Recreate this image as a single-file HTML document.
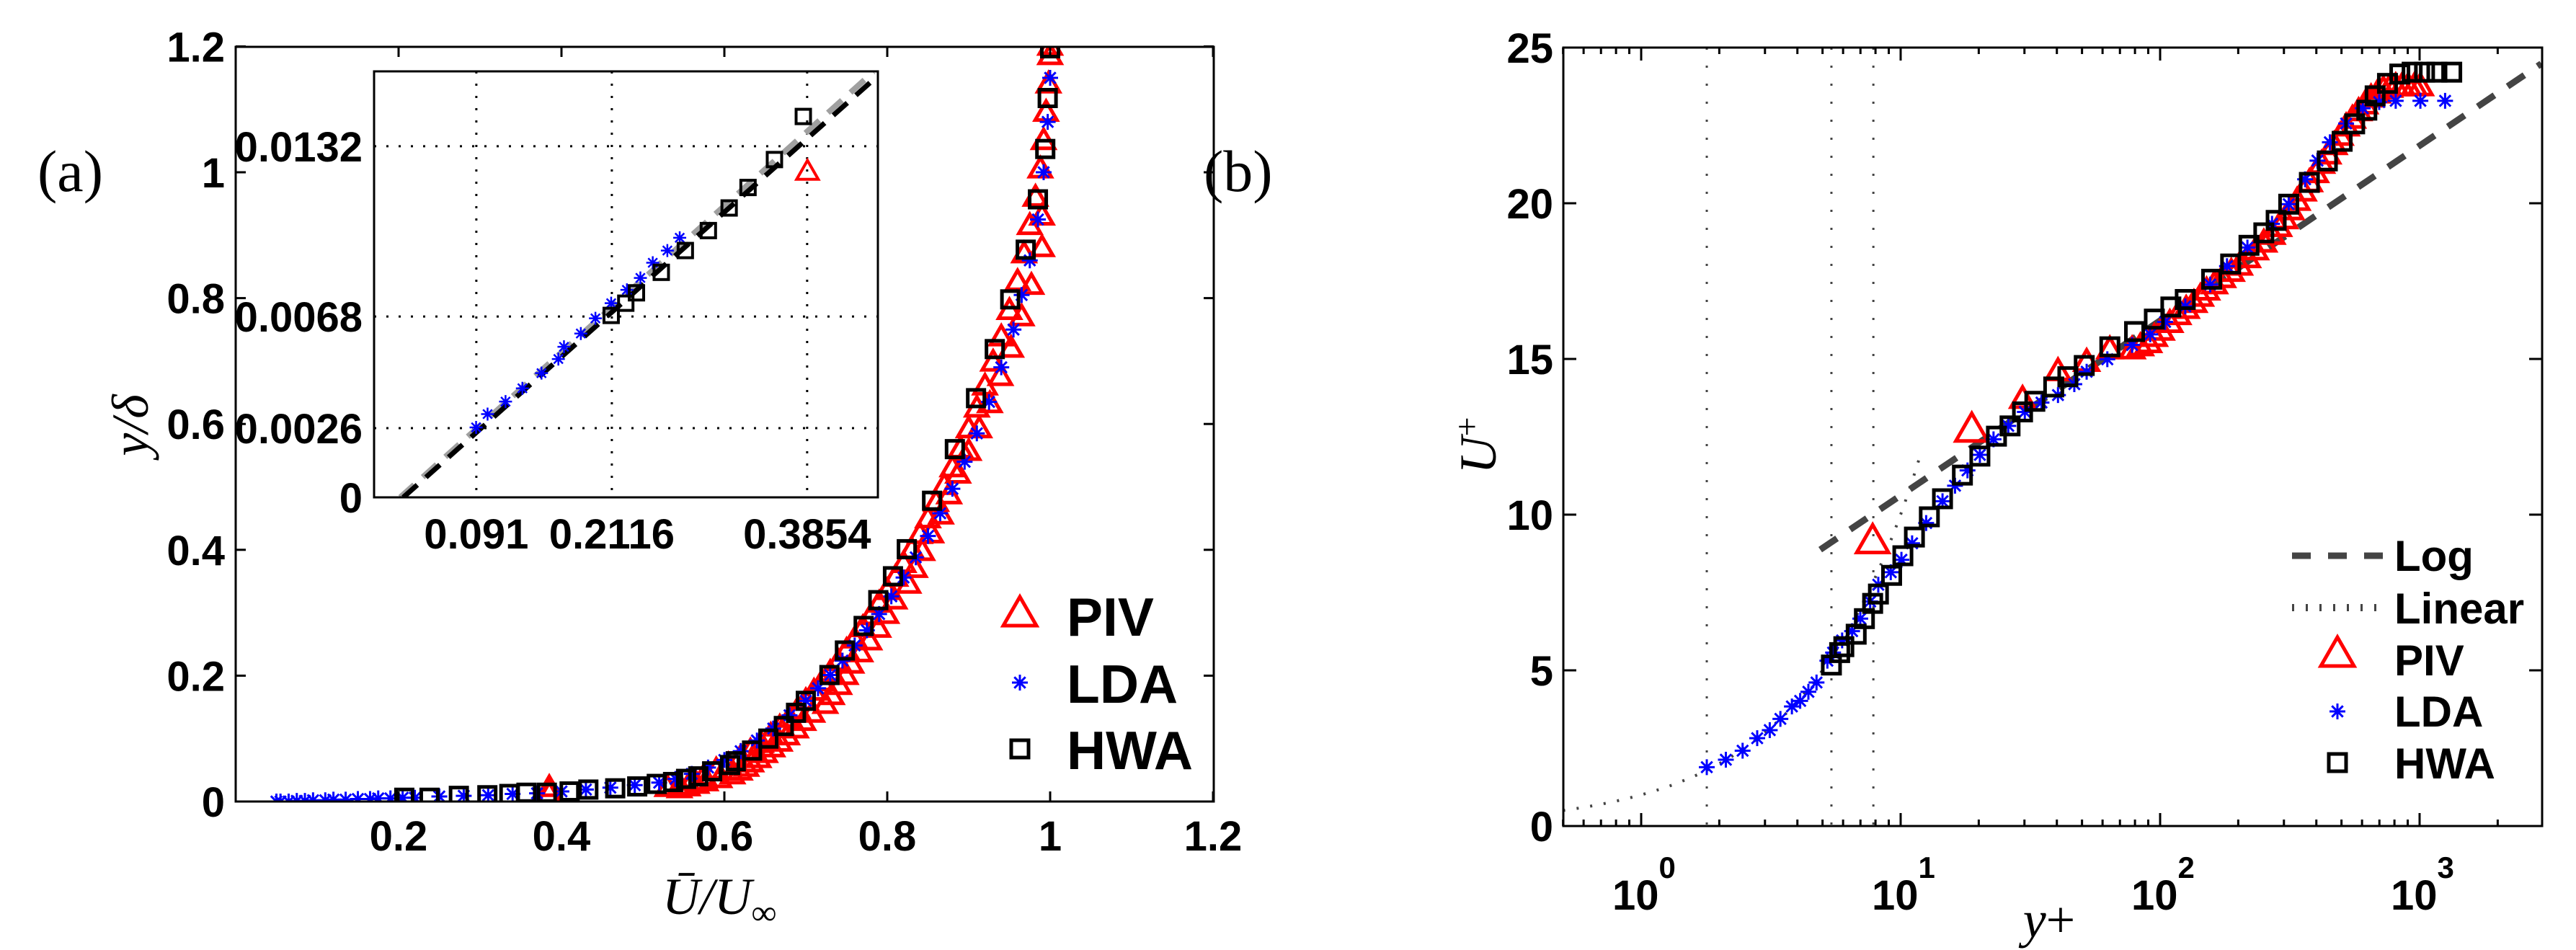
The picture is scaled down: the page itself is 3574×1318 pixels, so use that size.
<!DOCTYPE html>
<html><head><meta charset="utf-8"><style>
html,body{margin:0;padding:0;background:#fff}
svg{display:block}
text{font-family:"Liberation Sans",Arial,sans-serif;font-weight:bold;fill:#000}
.ser{font-family:"Liberation Serif",serif;font-weight:normal}
</style></head><body>
<svg id="fig" width="3574" height="1318" viewBox="0 0 3574 1318" xmlns="http://www.w3.org/2000/svg">
<defs>
<clipPath id="clipL"><rect x="327" y="65" width="1357" height="1047"/></clipPath>
<clipPath id="clipI"><rect x="519" y="99" width="699" height="591"/></clipPath>
<clipPath id="clipR"><rect x="2169" y="66" width="1358" height="1080"/></clipPath>
</defs>
<text class="ser" x="52" y="265" font-size="82">(a)</text>
<text class="ser" x="1670" y="265" font-size="82">(b)</text>
<g id="gL"></g>
<g id="gR"></g>
</svg>
<script>
// ---------- data: panel (a) main ----------
const hwaX=[0.207,0.238,0.274,0.309,0.336,0.357,0.382,0.410,0.433,0.466,0.493,0.517,0.537,0.553,0.568,0.585,0.607,0.614,0.634,0.654,0.673,0.688,0.700,0.729,0.748,0.771,0.789,0.807,0.824,0.855,0.883,0.909,0.932,0.951,0.970,0.985,0.994,0.997,1.0];
const hwaY=[0.006,0.006,0.009,0.010,0.012,0.014,0.014,0.016,0.019,0.021,0.024,0.028,0.031,0.036,0.040,0.048,0.058,0.064,0.081,0.100,0.120,0.141,0.160,0.201,0.240,0.279,0.320,0.358,0.401,0.478,0.560,0.641,0.719,0.798,0.877,0.957,1.037,1.118,1.197];
const ldaX=[0.05,0.055,0.065,0.075,0.085,0.095,0.11,0.12,0.135,0.15,0.165,0.175,0.19,0.205,0.22,0.25,0.28,0.31,0.34,0.37,0.40,0.43,0.46,0.49,0.52,0.54,0.56,0.58,0.60,0.62,0.64,0.66,0.68,0.70,0.715,0.73,0.745,0.76,0.775,0.79,0.805,0.82,0.835,0.85,0.865,0.88,0.895,0.91,0.925,0.94,0.955,0.965,0.975,0.985,0.992,0.997,1.0];
const ldaY=[0.0,0.0,0.0,0.001,0.001,0.002,0.002,0.003,0.003,0.004,0.004,0.005,0.005,0.006,0.006,0.008,0.009,0.010,0.012,0.013,0.016,0.019,0.022,0.026,0.030,0.036,0.044,0.054,0.066,0.080,0.097,0.116,0.137,0.160,0.180,0.201,0.224,0.248,0.272,0.298,0.326,0.356,0.388,0.422,0.458,0.497,0.540,0.585,0.635,0.690,0.750,0.805,0.860,0.925,1.000,1.080,1.150];
const pivX=[0.385,0.385,0.53,0.545,0.56,0.575,0.59,0.605,0.62,0.632,0.645,0.657,0.668,0.68,0.69,0.70,0.71,0.72,0.73,0.74,0.75,0.76,0.77,0.78,0.79,0.80,0.81,0.82,0.83,0.84,0.85,0.86,0.87,0.88,0.89,0.90,0.91,0.92,0.93,0.94,0.95,0.96,0.968,0.975,0.982,0.988,0.992,0.995,0.998,1.0,1.0,
0.99,0.99,0.977,0.965,0.952,0.939,0.926,0.913,0.90,0.887,0.876,0.866,0.854,0.843,0.834,0.826,0.809,0.799,0.789,0.778,0.767,0.756,0.749,0.741,0.732,0.724,0.708,0.697,0.688,0.677,0.668,0.659,0.650,0.642,0.633,0.627,0.619,0.610,0.594,0.577,0.566,0.555,0.545];
const pivY=[0.012,0.022,0.022,0.025,0.032,0.040,0.050,0.058,0.070,0.080,0.092,0.105,0.118,0.132,0.146,0.160,0.175,0.190,0.205,0.222,0.240,0.258,0.276,0.295,0.315,0.335,0.356,0.378,0.400,0.424,0.449,0.475,0.502,0.530,0.560,0.592,0.625,0.660,0.698,0.738,0.780,0.826,0.870,0.915,0.960,1.005,1.050,1.095,1.140,1.185,1.200,
0.930,0.880,0.820,0.770,0.720,0.675,0.632,0.592,0.556,0.520,0.487,0.455,0.425,0.397,0.370,0.345,0.320,0.297,0.275,0.255,0.236,0.218,0.200,0.184,0.168,0.154,0.140,0.127,0.115,0.104,0.094,0.085,0.076,0.068,0.061,0.054,0.048,0.042,0.036,0.031,0.027,0.023,0.020];
const xTicksL=[0.2,0.4,0.6,0.8,1,1.2];
const xTickLabelsL=["0.2","0.4","0.6","0.8","1","1.2"];
const yTicksL=[0,0.2,0.4,0.6,0.8,1,1.2];
const yTickLabelsL=["0","0.2","0.4","0.6","0.8","1","1.2"];
// ---------- data: inset ----------
const inLdaX=[0.0908,0.101,0.117,0.132,0.149,0.164,0.169,0.184,0.197,0.211,0.225,0.237,0.248,0.261,0.272];
const inLdaY=[0.00263,0.00313,0.0036,0.0041,0.00467,0.0052,0.00566,0.00616,0.00673,0.0073,0.0078,0.00825,0.00882,0.00928,0.00976];
const inHwaX=[0.211,0.224,0.2335,0.2556,0.277,0.2975,0.316,0.3328,0.3563,0.382];
const inHwaY=[0.00684,0.0073,0.00769,0.00846,0.00928,0.01003,0.01088,0.01165,0.0127,0.01432];
const inPivX=[0.3857];
const inPivY=[0.01224];
const inFitBlackX=[0.026,0.447], inFitBlackY=[0,0.0158];
const inFitGrayX=[0.0233,0.4445], inFitGrayY=[0,0.016];
const inXTicks=[0.091,0.2116,0.3854];
const inXTickLabels=["0.091","0.2116","0.3854"];
const inYTicks=[0,0.0026,0.0068,0.0132];
const inYTickLabels=["0","0.0026","0.0068","0.0132"];
// ---------- data: panel (b) ----------
const rLdaX=[1.79,2.12,2.46,2.80,3.13,3.44,3.81,4.10,4.41,4.74,5.22,5.49,5.95,6.50,6.99,7.63,8.20,9.16,10.07,11.07,12.54,14.5,16.2,18.1,20.2,22.8,26.0,30.1,34.9,40.4,46.7,52.1,62.6,78.0,91.6,104.5,125,156,181,217,270,313,362,404,451,521,604,699,809,1007,1254];
const rLdaY=[1.89,2.13,2.42,2.82,3.08,3.44,3.84,4.02,4.31,4.61,5.31,5.57,5.96,6.26,6.66,7.21,7.75,8.15,8.55,9.08,9.73,10.43,10.93,11.42,11.92,12.42,12.85,13.30,13.60,13.84,14.19,14.59,14.99,15.45,15.79,16.19,16.69,17.39,17.98,18.58,19.34,19.97,20.77,21.37,21.96,22.56,23.05,23.25,23.29,23.29,23.29];
const rHwaX=[5.41,5.82,6.04,6.74,7.25,7.80,8.21,9.23,10.2,11.3,12.9,14.5,17.3,20.2,23.4,26.4,29.5,32.9,38.9,44.1,51.0,64.0,79.7,95.0,110,125,158,187,220,251,280,313,376,441,503,562,626,674,752,839,936,1045,1166,1330];
const rHwaY=[5.17,5.57,5.76,6.16,6.66,7.15,7.45,8.05,8.68,9.28,9.93,10.51,11.27,11.88,12.52,12.85,13.30,13.64,14.10,14.43,14.79,15.39,15.88,16.28,16.67,16.91,17.56,18.05,18.65,19.05,19.45,19.97,20.67,21.36,21.99,22.55,22.99,23.45,23.85,24.15,24.21,24.21,24.21,24.21];
const rPivX=[7.8,18.8,29.5,40.4,52.1,64,78,84,90.3,95,101,109,117,126,135,143,151,162,174,188,202,217,233,251,270,286,302,319,337,356,376,397,419,443,468,494,521,551,582,615,650,687,725,766,809,855,903,954,1007];
const rPivY=[9.14,12.72,13.71,14.6,14.9,15.3,15.30,15.40,15.50,15.70,15.90,16.15,16.40,16.60,16.79,16.99,17.19,17.39,17.59,17.79,17.99,18.23,18.48,18.73,18.98,19.23,19.48,19.77,20.07,20.37,20.67,20.96,21.26,21.56,21.86,22.16,22.46,22.71,22.95,23.17,23.39,23.52,23.65,23.70,23.75,23.75,23.75,23.75,23.75];
const vLines=[1.79,5.41,7.85];
const logLawRange=[4.9,2945];
const linLawRange=[0.5,12];
const kappa=0.41, Bconst=5.0;
const rYTicks=[0,5,10,15,20,25];
const rYTickLabels=["0","5","10","15","20","25"];
const rXDecades=[0,1,2,3];

const NS="http://www.w3.org/2000/svg";
function mk(tag,parent,attrs){const e=document.createElementNS(NS,tag);for(const k in attrs)e.setAttribute(k,attrs[k]);parent.appendChild(e);return e;}
const X=v=>327+v*1130, Y=v=>1112-v*873;
const IX=v=>519+v*1559, IY=v=>690-v*36900;
const RX=v=>2277+Math.log10(v)*360, RY=u=>1146-u*43.2;

function tri(p,cx,cy,s,w){const h=s*0.87;return mk('polygon',p,{points:`${cx},${cy-h*0.6} ${cx-s/2},${cy+h*0.4} ${cx+s/2},${cy+h*0.4}`,fill:'none',stroke:'#ff0000','stroke-width':w});}
function sq(p,cx,cy,s,w){return mk('rect',p,{x:cx-s/2,y:cy-s/2,width:s,height:s,fill:'none',stroke:'#000','stroke-width':w});}
function star(p,cx,cy,s,w){const r=s/2,d=r*0.7;return mk('path',p,{d:`M${cx},${cy-r}V${cy+r}M${cx-r},${cy}H${cx+r}M${cx-d},${cy-d}L${cx+d},${cy+d}M${cx-d},${cy+d}L${cx+d},${cy-d}`,stroke:'#0000ff','stroke-width':w,fill:'none'});}

// ===== Left panel =====
const gL=document.getElementById('gL');
const pL=mk('g',gL,{'clip-path':'url(#clipL)'});
pivX.forEach((v,i)=>{const e=tri(pL,X(v),Y(pivY[i]),30,5);

});
ldaX.forEach((v,i)=>{const e=star(pL,X(v),Y(ldaY[i]),22,3);

});
hwaX.forEach((v,i)=>{const e=sq(pL,X(v),Y(hwaY[i]),23,5);

});
const boxL=mk('rect',gL,{x:327,y:65,width:1357,height:1047,fill:'none',stroke:'#000','stroke-width':3});


xTicksL.forEach((v,i)=>{mk('line',gL,{x1:X(v),x2:X(v),y1:1112,y2:1098,stroke:'#000','stroke-width':3});mk('line',gL,{x1:X(v),x2:X(v),y1:65,y2:79,stroke:'#000','stroke-width':3});
const t=mk('text',gL,{x:X(v),y:1180,'font-size':58,'text-anchor':'middle'});t.textContent=xTickLabelsL[i];

});
yTicksL.forEach((v,i)=>{mk('line',gL,{x1:327,x2:341,y1:Y(v),y2:Y(v),stroke:'#000','stroke-width':3});mk('line',gL,{x1:1684,x2:1670,y1:Y(v),y2:Y(v),stroke:'#000','stroke-width':3});
const t=mk('text',gL,{x:312,y:Y(v)+21,'font-size':58,'text-anchor':'end'});t.textContent=yTickLabelsL[i];

});
// inset
const gI=mk('g',gL,{});


mk('rect',gI,{x:519,y:99,width:699,height:591,fill:'#fff',stroke:'none'});
const pI=mk('g',gI,{'clip-path':'url(#clipI)'});
inXTicks.forEach(v=>mk('line',pI,{x1:IX(v),x2:IX(v),y1:99,y2:690,stroke:'#000','stroke-width':3,'stroke-dasharray':'3 14'}));
inYTicks.slice(1).forEach(v=>mk('line',pI,{x1:519,x2:1218,y1:IY(v),y2:IY(v),stroke:'#000','stroke-width':3,'stroke-dasharray':'3 14'}));
const fg=mk('line',pI,{x1:IX(inFitGrayX[0]),y1:IY(inFitGrayY[0]),x2:IX(inFitGrayX[1]),y2:IY(inFitGrayY[1]),stroke:'#a0a0a0','stroke-width':8,'stroke-dasharray':'26 16'});


const fb=mk('line',pI,{x1:IX(inFitBlackX[0]),y1:IY(inFitBlackY[0]),x2:IX(inFitBlackX[1]),y2:IY(inFitBlackY[1]),stroke:'#000','stroke-width':7,'stroke-dasharray':'26 16'});


inLdaX.forEach((v,i)=>{const e=star(pI,IX(v),IY(inLdaY[i]),18,2.5);

});
inHwaX.forEach((v,i)=>{const e=sq(pI,IX(v),IY(inHwaY[i]),20,4);

});
inPivX.forEach((v,i)=>{const e=tri(pI,IX(v),IY(inPivY[i]),30,4);

});
mk('rect',gI,{x:519,y:99,width:699,height:591,fill:'none',stroke:'#000','stroke-width':3});
inXTicks.forEach((v,i)=>{const t=mk('text',gI,{x:IX(v),y:761,'font-size':58,'text-anchor':'middle'});t.textContent=inXTickLabels[i];

});
inYTicks.forEach((v,i)=>{const t=mk('text',gI,{x:503,y:IY(v)+21,'font-size':58,'text-anchor':'end'});t.textContent=inYTickLabels[i];

});
const lgL=mk('g',gL,{});


tri(lgL,1415,852,46,5);star(lgL,1415,947,22,3);sq(lgL,1415,1039,24,5);
[["PIV",882],["LDA",975],["HWA",1067]].forEach(a=>{const t=mk('text',lgL,{x:1480,y:a[1],'font-size':75});t.textContent=a[0];

});
const yl=mk('text',gL,{class:'ser',x:0,y:0,'font-size':72,'font-style':'italic','text-anchor':'middle',transform:'translate(205,590) rotate(-90)'});yl.textContent='y/δ';


const xl=mk('text',gL,{class:'ser',x:998,y:1268,'font-size':72,'font-style':'italic','text-anchor':'middle'});xl.innerHTML='Ū/U<tspan font-size="48" dy="14">∞</tspan>';



// ===== Right panel =====
const gR=document.getElementById('gR');
const pR=mk('g',gR,{'clip-path':'url(#clipR)'});
vLines.forEach(v=>{const e=mk('line',pR,{x1:RX(v),x2:RX(v),y1:66,y2:1146,stroke:'#444','stroke-width':3,'stroke-dasharray':'3 22'});

});
{let d='';for(let k=0;k<=40;k++){const yp=linLawRange[0]*Math.pow(linLawRange[1]/linLawRange[0],k/40);d+=(k?'L':'M')+RX(yp).toFixed(1)+','+RY(yp).toFixed(1);}
const e=mk('path',pR,{d:d,fill:'none',stroke:'#444','stroke-width':4,'stroke-dasharray':'3 16'});

}
{const a=logLawRange[0],b=logLawRange[1];const ua=Math.log(a)/kappa+Bconst,ub=Math.log(b)/kappa+Bconst;
const e=mk('line',pR,{x1:RX(a),y1:RY(ua),x2:RX(b),y2:RY(ub),stroke:'#444','stroke-width':9,'stroke-dasharray':'28 22'});

}
rPivX.forEach((v,i)=>{const big=i<2;const e=tri(pR,RX(v),RY(rPivY[i]),big?44:32,5);

});
rLdaX.forEach((v,i)=>{const e=star(pR,RX(v),RY(rLdaY[i]),22,3);

});
rHwaX.forEach((v,i)=>{const e=sq(pR,RX(v),RY(rHwaY[i]),24,5);

});
const boxR=mk('rect',gR,{x:2169,y:66,width:1358,height:1080,fill:'none',stroke:'#000','stroke-width':3});


rYTicks.forEach((v,i)=>{mk('line',gR,{x1:2169,x2:2187,y1:RY(v),y2:RY(v),stroke:'#000','stroke-width':3});mk('line',gR,{x1:3527,x2:3509,y1:RY(v),y2:RY(v),stroke:'#000','stroke-width':3});
const t=mk('text',gR,{x:2155,y:RY(v)+21,'font-size':58,'text-anchor':'end'});t.textContent=rYTickLabels[i];

});
for(let dcd=-1;dcd<=3;dcd++){for(let m=1;m<10;m++){const v=m*Math.pow(10,dcd);if(v<0.5||v>2945)continue;const L=m===1?18:9;
mk('line',gR,{x1:RX(v),x2:RX(v),y1:1146,y2:1146-L,stroke:'#000','stroke-width':3});mk('line',gR,{x1:RX(v),x2:RX(v),y1:66,y2:66+L,stroke:'#000','stroke-width':3});}}
rXDecades.forEach(p=>{const x=RX(Math.pow(10,p));const t=mk('text',gR,{x:x-40,y:1262,'font-size':58});t.innerHTML='10<tspan font-size="42" dy="-44">'+p+'</tspan>';

});
const lgR=mk('g',gR,{});


mk('line',lgR,{x1:3180,x2:3306,y1:771,y2:771,stroke:'#444','stroke-width':9,'stroke-dasharray':'26 24'});
mk('line',lgR,{x1:3180,x2:3300,y1:843,y2:843,stroke:'#444','stroke-width':10,'stroke-dasharray':'3 16'});
tri(lgR,3243,908,46,5);star(lgR,3243,987,22,3);sq(lgR,3243,1058,24,5);
[["Log",792],["Linear",865],["PIV",937],["LDA",1008],["HWA",1080]].forEach(a=>{const t=mk('text',lgR,{x:3322,y:a[1],'font-size':60});t.textContent=a[0];

});
const ryl=mk('text',gR,{class:'ser',x:0,y:0,'font-size':72,'font-style':'italic','text-anchor':'middle',transform:'translate(2075,618) rotate(-90)'});ryl.innerHTML='U<tspan font-size="48" dy="-24" font-style="normal">+</tspan>';


const rxl=mk('text',gR,{class:'ser',x:2843,y:1300,'font-size':72,'font-style':'italic','text-anchor':'middle'});rxl.innerHTML='y<tspan font-style="normal">+</tspan>';


</script>
</body></html>
